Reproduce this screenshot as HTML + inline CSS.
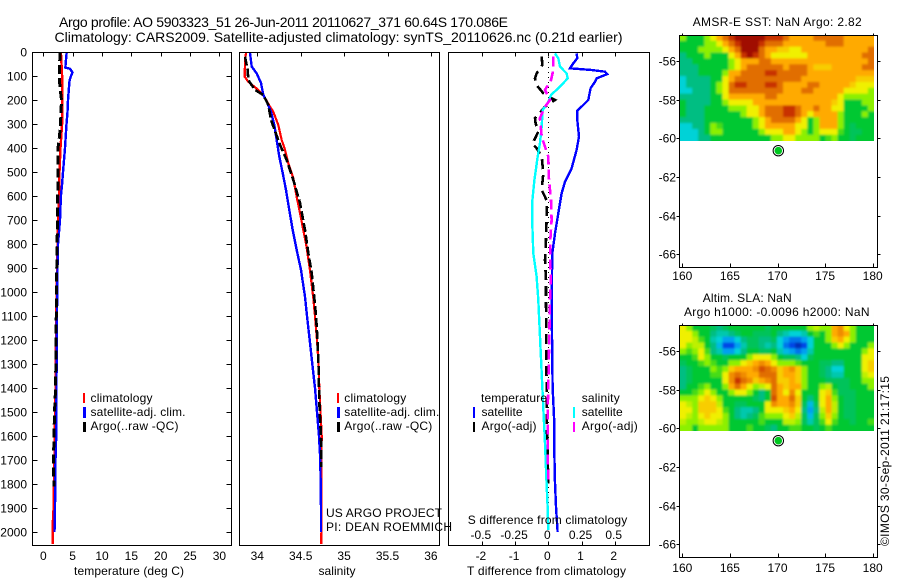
<!DOCTYPE html>
<html lang="en">
<head>
<meta charset="utf-8">
<title>Argo profile chart</title>
<style>
html,body{margin:0;padding:0;background:#fff;}
svg{display:block;}
text{font-family:"Liberation Sans",sans-serif;font-size:12px;fill:#000;}
.t14{font-size:14px;}
</style>
</head>
<body>
<svg id="chart" xmlns="http://www.w3.org/2000/svg" width="900" height="580" viewBox="0 0 900 580">
<defs>
<filter id="smooth" filterUnits="userSpaceOnUse" x="640" y="0" width="260" height="580"><feGaussianBlur stdDeviation="1.1"/></filter>
<clipPath id="clip-sst"><rect x="680" y="36" width="194" height="105"/></clipPath>
<clipPath id="clip-sla"><rect x="680" y="326" width="194" height="105"/></clipPath>
</defs>
<rect width="900" height="580" fill="#fff"/>
<text class="t14" x="59" y="27" textLength="449" lengthAdjust="spacing">Argo profile: AO 5903323_51 26-Jun-2011 20110627_371 60.64S 170.086E</text>
<text class="t14" x="54.5" y="42" textLength="568" lengthAdjust="spacing">Climatology: CARS2009. Satellite-adjusted climatology: synTS_20110626.nc (0.21d earlier)</text>
<g id="layer-heat"></g>
<g id="layer-lines"></g>
<g id="layer-axes"></g>

<g>
<rect x="83" y="393" width="2" height="10" fill="#f00"/>
<rect x="83" y="407" width="3" height="11" fill="#00f"/>
<rect x="83" y="422" width="3" height="10" fill="#000"/>
<text x="90.5" y="402" textLength="62" lengthAdjust="spacing">climatology</text>
<text x="90.5" y="416" textLength="95" lengthAdjust="spacing">satellite-adj. clim.</text>
<text x="90.5" y="430" textLength="88" lengthAdjust="spacing">Argo(..raw -QC)</text>
</g>
<g>
<rect x="337" y="393" width="2" height="10" fill="#f00"/>
<rect x="337" y="407" width="3" height="11" fill="#00f"/>
<rect x="337" y="422" width="3" height="10" fill="#000"/>
<text x="344.3" y="402" textLength="62" lengthAdjust="spacing">climatology</text>
<text x="344.3" y="416" textLength="95" lengthAdjust="spacing">satellite-adj. clim.</text>
<text x="344.3" y="430" textLength="88" lengthAdjust="spacing">Argo(..raw -QC)</text>
</g>
<g>
<text x="481" y="402" textLength="66" lengthAdjust="spacing">temperature</text>
<text x="581.7" y="402" textLength="38" lengthAdjust="spacing">salinity</text>
<rect x="473" y="407" width="2" height="11" fill="#00f"/>
<rect x="473" y="422" width="2" height="10" fill="#000"/>
<rect x="573" y="407" width="2" height="11" fill="#0ff"/>
<rect x="573" y="422" width="2" height="10" fill="#f0f"/>
<text x="481.5" y="416" textLength="41" lengthAdjust="spacing">satellite</text>
<text x="481.5" y="430" textLength="55" lengthAdjust="spacing">Argo(-adj)</text>
<text x="581.7" y="416" textLength="41" lengthAdjust="spacing">satellite</text>
<text x="581.7" y="430" textLength="56" lengthAdjust="spacing">Argo(-adj)</text>
</g>

<text x="74" y="575" textLength="110" lengthAdjust="spacing">temperature (deg C)</text>
<text x="318.5" y="575" textLength="37" lengthAdjust="spacing">salinity</text>
<text x="467" y="575" textLength="159" lengthAdjust="spacing">T difference from climatology</text>
<text x="467.7" y="524" textLength="159.5" lengthAdjust="spacing">S difference from climatology</text>
<text x="326" y="517" textLength="116" lengthAdjust="spacing">US ARGO PROJECT</text>
<text x="326" y="531" textLength="126" lengthAdjust="spacing">PI: DEAN ROEMMICH</text>
<text x="692.7" y="26" textLength="169" lengthAdjust="spacing">AMSR-E SST: NaN Argo: 2.82</text>
<text x="702.7" y="302" textLength="89" lengthAdjust="spacing">Altim. SLA: NaN</text>
<text x="684" y="316" textLength="185.5" lengthAdjust="spacing">Argo h1000: -0.0096 h2000: NaN</text>
<text transform="translate(889,546) rotate(-90)" textLength="170" lengthAdjust="spacing">©IMOS 30-Sep-2011 21:17:15</text>
<g stroke="#000" stroke-width="1" shape-rendering="crispEdges">
<line x1="445" y1="526.5" x2="450" y2="526.5"/>
<line x1="450.5" y1="522" x2="450.5" y2="530"/>
</g>
</svg>
<script>
// ---- tick labels ----
const depthTicks = [0,100,200,300,400,500,600,700,800,900,1000,1100,1200,1300,1400,1500,1600,1700,1800,1900,2000];
const tempTicks = [0,5,10,15,20,25,30];
const salTicks = [34,34.5,35,35.5,36];
const salTickLabels = ['34','34.5','35','35.5','36'];
const tDiffTicks = [-2,-1,0,1,2];
const sDiffTicks = [-0.5,-0.25,0,0.25,0.5];
const sDiffLabels = ['-0.5','-0.25','0','0.25','0.5'];
const lonTicks = [160,165,170,175,180];
const latTicks = [-56,-58,-60,-62,-64,-66];

// ---- temperature panel ----
const tempClimDepth = [0,50,100,200,300,400,500,600,700,800,900,1000,1100,1200,1300,1400,1500,1600,1700,1800,1900,1950,1955,2050];
const tempClimValue = [3.0,3.1,3.2,3.2,3.2,2.93,2.76,2.67,2.55,2.42,2.33,2.3,2.2,2.17,2.1,2.08,2.0,1.95,1.9,1.83,1.74,1.7,1.57,1.6];
const tempSatDepth = [0,50,65,70,85,100,120,200,250,300,400,450,500,550,600,700,800,900,1000,1200,1400,1600,1700,1900,2000];
const tempSatValue = [3.98,3.8,3.76,4.55,4.97,4.72,4.46,4.2,4.12,3.95,3.7,3.53,3.36,3.2,3.0,2.85,2.5,2.42,2.37,2.28,2.25,2.2,2.08,2.0,1.9];
const tempArgoDepth = [0,100,150,200,300,350,400,500,600,700,800,1000,1400,1500,1700,1810];
const tempArgoValue = [2.85,2.72,2.85,3.1,2.93,2.76,2.5,2.5,2.45,2.45,2.33,2.25,2.1,1.9,1.74,1.8];

// ---- salinity panel ----
const salClimDepth = [4,33,103,124,158,179,228,249,304,367,408,463,525,604,671,742,812,908,1025,1100,1200,1300,1400,1600,1700,1900,2050];
const salClimValue = [33.87,33.858,33.855,33.896,34.012,34.069,34.146,34.184,34.242,34.281,34.319,34.357,34.415,34.454,34.492,34.53,34.568,34.606,34.645,34.665,34.688,34.705,34.714,34.742,34.74,34.74,34.737];
const salSatDepth = [4,61,89,129,179,207,249,304,367,436,504,575,658,742,825,908,1020,1100,1200,1300,1400,1500,1600,1700,1900,2000];
const salSatValue = [33.916,33.935,33.993,34.043,34.069,34.108,34.158,34.196,34.224,34.253,34.293,34.331,34.369,34.408,34.454,34.503,34.55,34.573,34.604,34.634,34.665,34.688,34.711,34.726,34.734,34.734];
const salArgoDepth = [20,75,117,158,179,220,283,387,450,533,629,742,838,921,1025,1100,1200,1300,1400,1500,1600,1730];
const salArgoValue = [33.858,33.889,33.896,33.974,34.069,34.127,34.158,34.262,34.339,34.415,34.492,34.55,34.588,34.627,34.657,34.676,34.694,34.705,34.711,34.719,34.734,34.737];

// ---- difference panel ----
const dTempSatDepth = [6,26,47,68,75,82,92,110,124,151,200,221,244,283,353,408,485,540,589,672,756,839,1033,1394,1547,1658,1783,1894,1999];
const dTempSatValue = [0.853,0.873,0.753,0.653,1.305,1.707,1.777,1.456,1.406,1.275,1.205,1.054,0.873,0.873,0.924,0.853,0.703,0.502,0.402,0.301,0.201,0.12,0.1,0.13,0.181,0.181,0.2,0.231,0.281];
const dTempArgoDepth = [19,54,89,110,138,172,186,200,228,244,276,297,332,360,383,401,436,506,575,617,700,783,867,950,1033,1394,1547,1672,1797];
const dTempArgoValue = [-0.2,-0.18,-0.351,-0.402,-0.351,-0.15,0,0.2,-0.1,-0.2,-0.402,-0.382,-0.301,-0.402,-0.482,-0.351,-0.2,-0.15,-0.2,-0.05,-0.05,-0.07,-0.1,-0.07,-0.07,-0.05,-0.05,-0.02,0];
const dSalSatDepth = [6,26,61,89,110,144,179,214,242,311,381,436,533,617,728,839,936,1033,1394,1519,1630,1769,1894,1992];
const dSalSatValue = [0.05,0.075,0.088,0.138,0.146,0.088,0.02,-0.005,-0.043,-0.05,-0.063,-0.08,-0.105,-0.12,-0.12,-0.113,-0.088,-0.075,-0.045,-0.035,-0.025,-0.015,-0.005,0];
const dSalArgoDepth = [19,75,117,158,200,228,276,353,394,436,533,617,700,783,867,950,1033,1394,1505,1630,1800];
const dSalArgoValue = [0.038,0.038,0.02,-0.025,0.013,-0.025,-0.063,-0.05,-0.025,0,0.005,0.02,0.025,0.015,0.015,0.018,0.013,0,-0.005,-0.005,0];
const zeroLineDepth = [0,2000];
const zeroLineValue = [0,0];

// ---- maps: colour-index grids, north to south, west to east ----
const sstGrid = [
[6,5,5,5,6,7,8,9,10,11,11,11,11,11,10,10,10,9,8,8,8,8,9,9,9,9,9,8,8,8,8,8],
[5,5,5,5,6,6,7,8,9,10,11,11,11,10,9,9,9,8,8,8,8,8,8,8,9,9,9,8,8,8,8,8],
[5,5,5,6,6,6,6,7,8,9,11,11,11,9,8,8,7.5,7.5,7,7,8,8,8,8,8,8,8,8,8,8,8,9],
[4,5,5,5,6,5,5,5,7,8,10,11,10,9,8,7,7,7,7,7,7,8,8,8,8,8,8,8,8,8,9,9],
[4,4,5,5,5,5,5,5,6,7,8,8,8,9,9,8,8,8,8,8,8,8,8,8,8,8,8,8,8,8,8,9],
[4,4,4,5,5,5,5,5,6,7,8,9,9,9,9,9,9,8,9,9,9,8,7.5,7.5,7.5,8,8,8,8,8,9,9],
[4,4,4,5,5,5,5,6,8,8,9,9,9,9,10,10,9,9,9,9,9,8,8,8,8,8,8,8,8,8,8,8],
[3,4,4,4,4,5,5,7,8,9,9,9,9,9,9,9,9,9,9,9,8,8,8,8,8,8,8,8,8,7.5,7.5,7.5],
[3,4,4,4,4,5,6,7,9,10,10,9,9,9,10,10,9,8,8,8,8,9,9,8,8,8,8,8,7.5,7,7,7],
[3,3,4,4,4,5,6,7,9,9,9,9,9,9,9,9,9,8,8,8,9,9,8,8,8,8,8,7,7,7,7,6],
[4,4,4,4,4,5,5,7,8,8,8,8,8,8,9,9,8,8,8,8,8,8,8,8,8,8,7,6,6,6,6,6],
[5,4,4,4,4,5,5,6,7,7,7,7,8,8,8,8,8,8,8,8,8,8,8,8,8,7.5,7,5,5,5,6,6],
[5,4,4,4,5,5,5,5,6,6,6,7,7,8,9,9,9,10,10,9,8,8,9,8,8,7,7,5,5,5,5,6],
[5,4,4,4,5,5,5,5,5,5,6,7,7,8,9,9,9,10,10,9,8,7,8,8,8,8,6,5,5,5,6,5],
[4,4,4,4,5,5,5,5,5,5,5,5,6,7,8,9,9,9,9,8,7,5,6,8,8,8,6,5,5,5,5,5],
[3,3,4,4,5,6,5.5,5,5,5,5,5,6,7,8,8,8,8,8,7,7,5,6,8,8,8,6,5,4.5,5,5,5],
[3,3,3,4,5,6,6,5,5,5,5,5,5,6,7,7,7,8,8,7,6,5,6,7,7,7,5.5,5,4.5,4.5,5,5],
[3,3,3,4,4,5,5,5,5,5,5,5,5,5,5,6,6,7,7,6,6,6,6,5,5.5,6,5,5,4.5,5,5,5]
];
const slaGrid = [
[7,6,5,5,5,4.5,4,4.5,5,5,5,5,5,5,4.5,5,5,5,5,5,5,6,6.5,6,6,8,8.5,7,6,5,5,5],
[7,7,6,5,5,4,3.5,3.5,4,4.5,5,5,4.5,4.5,4.5,5,4,3.5,3,3,3.5,5,5.5,5,6,8,8.5,8,6,5,5,5],
[7,7,6.5,5.5,5,3.5,3,2,2,3,4,4.5,4.5,4,4,4.5,3,2,1.5,1.5,2,3,5,5,6,7.5,8,7,6,5,5,5],
[7,6,6.5,6.5,5,4,2.5,1,1,2,3.5,4.5,4.5,4,3.5,4,3,1.5,1,0.5,1,3,5,5,5,6,7,6,5,5,5,6],
[6,5.5,6,7,5.5,4,3.5,2,2,3,4,5,5,4.5,4.5,5,3.5,2.5,2,1.5,2,3.5,5,5,5,5,5,5,5,5,6,7],
[5,5,5.5,7,6,5,5,4.5,5,5,5,6,7,7,7,6,5,4.5,4.5,4,3,4.5,5,5,5,5,5,5,5,5,7,7],
[4.5,5,5,5.5,6,5.5,5,5,6,6,7,7.5,8,8.5,8,7,6,6,6,5.5,5,5,5,4.5,4.5,4,4,5,5,5,7,7.5],
[4,4.5,5,5,5,6,5.5,6,7.5,8,8,8,8.5,9.5,9,8.5,7.5,8,8.5,7.5,6,5,5,4.5,4,3,3,5,5,5,7,7.5],
[4,4.5,5,5,5,5.5,5.5,7,8.5,9,8.5,8,8,9,9,9,7.5,8,8,7.5,6,5,5,4.5,4,3.5,3.5,5,5,5,6.5,7],
[4,4.5,5,5,5,5,5,7,8.5,10,9,8.5,7.5,8,8.5,9,7.5,7.5,8,7.5,6,5,5,5,4.5,4.5,4.5,4.5,5,5,6,6],
[4,5,5,5.5,6,5,5,6,8,9,8,7,6,6.5,7,9,8,7.5,8,8,6,5,5,6,6.5,5,4.5,4.5,5,5,5,6],
[5,5,5.5,6,7,6,5,5,6,7,7,6,5,4,5,9,8,7,8.5,7,5,5,5,7,7.5,5.5,4.5,4.5,4.5,5,5,5],
[6,6,6,7,7.5,7,6,5,5,5,5,5,4.5,4,5,9.5,8,8,9,7.5,5,4,5,7,8,6,5,4.5,4.5,5,5,5],
[7,6.5,6,7.5,7.5,7.5,6.5,5,5,4.5,4.5,5,5,5,7,8.5,8,8,8.5,7.5,4.5,2.5,4.5,7,8,6.5,5,4.5,4.5,5,5,5],
[7,7,6,7.5,7.5,7.5,7,5.5,5,4,3.5,3.5,4,5,7,7,7,7.5,8,7,4,2,4,6.5,8,6.5,5,4.5,4.5,5,5,5],
[7,6.5,6,7,7.5,7,7,6,5,4,3.5,4,4.5,5.5,6,6,6,7,7.5,6.5,4.5,2.5,4.5,6,7.5,6,5,4.5,4.5,5,5,5],
[6.5,6,6,6.5,7,7,6.5,6,5,5,5,5,5,5.5,5,5,5,6.5,6.5,6,4.5,3.5,4.5,5.5,7,5.5,5,5,4.5,5,5,5.5],
[6,6,5,6,6,6,6,6,5,5,5,5.5,5,5,4.5,4,5,5,5.5,5.5,5,5,4.5,5,5.5,5,5,5,5,5,5,5]
];
const argoLon = [170.086];
const argoLat = [-60.64];

const NS = 'http://www.w3.org/2000/svg';
const layerLines = document.getElementById('layer-lines');
const layerAxes = document.getElementById('layer-axes');
const layerHeat = document.getElementById('layer-heat');

// ---- axis functions ----
function yDepth(d){ return 52 + d * 0.24; }
function xTemp(v){ return 43.3 + v * 5.87; }
function xSal(v){ return 257.3 + (v - 34) * 86.8; }
function xDT(v){ return 548.3 + v * 33.2; }
function xDS(v){ return 548.3 + v * 132.8; }
function xLon(v){ return 682.3 + (v - 160) * 9.52; }
function ySst(v){ return 61 + (-56 - v) * 19.33; }
function ySla(v){ return 351 + (-56 - v) * 19.33; }

function hLine(parent, x1, y1, x2, y2, name){
  const el = document.createElementNS(NS, 'line');
  
  
  el.setAttribute('x1', x1);
  el.setAttribute('y1', y1);
  el.setAttribute('x2', x2);
  el.setAttribute('y2', y2);
  el.setAttribute('stroke', '#000');
  el.setAttribute('stroke-width', '1');
  el.setAttribute('shape-rendering', 'crispEdges');
  parent.appendChild(el);
}
function label(parent, str, x, y, anchor, name){
  const el = document.createElementNS(NS, 'text');
  
  
  el.setAttribute('x', x);
  el.setAttribute('y', y);
  el.setAttribute('text-anchor', anchor);
  el.textContent = str;
  parent.appendChild(el);
}
function box(x0, y0, x1, y1, name){
  const el = document.createElementNS(NS, 'rect');
  
  
  el.setAttribute('x', x0);
  el.setAttribute('y', y0);
  el.setAttribute('width', x1 - x0);
  el.setAttribute('height', y1 - y0);
  el.setAttribute('fill', 'none');
  el.setAttribute('stroke', '#000');
  el.setAttribute('shape-rendering', 'crispEdges');
  layerAxes.appendChild(el);
}
function series(values, depths, xFn, color, width, dash, name){
  const el = document.createElementNS(NS, 'polyline');
  
  
  el.setAttribute('points', values.map(function(v, i){ return xFn(v).toFixed(1) + ',' + yDepth(depths[i]).toFixed(1); }).join(' '));
  el.setAttribute('fill', 'none');
  el.setAttribute('stroke', color);
  el.setAttribute('stroke-width', width);
  el.setAttribute('shape-rendering', 'crispEdges');
  if (dash) el.setAttribute('stroke-dasharray', dash);
  layerLines.appendChild(el);
}

// ---- profile panels ----
series(tempClimValue, tempClimDepth, xTemp, '#f00', 2.4, null, 'temperature-climatology-line');
series(tempSatValue, tempSatDepth, xTemp, '#00f', 2.4, null, 'temperature-satellite-line');
series(tempArgoValue, tempArgoDepth, xTemp, '#000', 3, '9 4', 'temperature-argo-line');
series(salClimValue, salClimDepth, xSal, '#f00', 2.2, null, 'salinity-climatology-line');
series(salSatValue, salSatDepth, xSal, '#00f', 2.4, null, 'salinity-satellite-line');
series(salArgoValue, salArgoDepth, xSal, '#000', 2.6, '9 3', 'salinity-argo-line');
series(zeroLineValue, zeroLineDepth, xDT, '#000', 1, '1 4', 'zero-difference-line');
series(dTempSatValue, dTempSatDepth, xDT, '#00f', 2.4, null, 't-difference-satellite-line');
series(dTempArgoValue, dTempArgoDepth, xDT, '#000', 2.6, '10 6', 't-difference-argo-line');
series(dSalSatValue, dSalSatDepth, xDS, '#0ff', 2.4, null, 's-difference-satellite-line');
series(dSalArgoValue, dSalArgoDepth, xDS, '#f0f', 2.6, '10 5', 's-difference-argo-line');

// ---- profile axes ----
const panelTop = 52.5;
const panelBottom = 545.5;
box(32.5, panelTop, 231.5, panelBottom, 'temperature-panel-frame');
box(239.5, panelTop, 439.5, panelBottom, 'salinity-panel-frame');
box(448.5, panelTop, 649.5, panelBottom, 'difference-panel-frame');

depthTicks.forEach(function(d){
  const y = Math.round(yDepth(d)) + 0.5;
  hLine(layerAxes, 32.5, y, 37.5, y, 'depth-tick-left');
  hLine(layerAxes, 226.5, y, 231.5, y, 'depth-tick-right');
  label(layerAxes, String(d), 27, y + 4, 'end', 'depth-tick-label');
});
tempTicks.forEach(function(v){
  const x = Math.round(xTemp(v)) + 0.5;
  hLine(layerAxes, x, panelTop, x, panelTop + 4, 'temperature-tick');
  label(layerAxes, String(v), xTemp(v), 560, 'middle', 'temperature-tick-label');
});
salTicks.forEach(function(v, i){
  const x = Math.round(xSal(v)) + 0.5;
  hLine(layerAxes, x, panelTop, x, panelTop + 4, 'salinity-tick');
  label(layerAxes, salTickLabels[i], xSal(v), 560, 'middle', 'salinity-tick-label');
});
tDiffTicks.forEach(function(v){
  const x = Math.round(xDT(v)) + 0.5;
  hLine(layerAxes, x, panelTop, x, panelTop + 4, 't-difference-tick-top');
  hLine(layerAxes, x, panelBottom - 4, x, panelBottom, 't-difference-tick-bottom');
  label(layerAxes, String(v), xDT(v) - 1, 560, 'middle', 't-difference-tick-label');
});
sDiffTicks.forEach(function(v, i){
  label(layerAxes, sDiffLabels[i], xDS(v) - 1, 539, 'middle', 's-difference-tick-label');
});

// ---- heat maps ----
const colorStops = [
[0,0,20,140],[1,0,70,230],[2,0,160,240],[3,0,210,215],[4,0,190,130],[5,0,200,50],
[6,140,240,0],[7,240,240,0],[8,255,170,0],[9,225,110,0],[10,200,50,0],[11,160,10,0]
];
function heatColor(v){
  const lo = Math.max(0, Math.min(10, Math.floor(v)));
  const f = Math.max(0, Math.min(1, v - lo));
  const a = colorStops[lo];
  const b = colorStops[lo + 1];
  return 'rgb(' + [1,2,3].map(function(k){ return Math.round(a[k] + (b[k] - a[k]) * f); }).join(',') + ')';
}
const mapLonWest = 159.76;
const mapLonEast = 180.13;
const mapLatNorth = -54.65;
const mapLatSouth = -60.12;
function drawHeat(grid, yFn, clipId, name){
  const clip = document.createElementNS(NS, 'g');
  
  
  clip.setAttribute('clip-path', 'url(#' + clipId + ')');
  const blur = document.createElementNS(NS, 'g');
  
  
  blur.setAttribute('filter', 'url(#smooth)');
  const rows = grid.length;
  grid.forEach(function(row, r){
    const cols = row.length;
    row.forEach(function(v, c){
      let x0 = xLon(mapLonWest + (mapLonEast - mapLonWest) * c / cols);
      let x1 = xLon(mapLonWest + (mapLonEast - mapLonWest) * (c + 1) / cols);
      let y0 = yFn(mapLatNorth + (mapLatSouth - mapLatNorth) * r / rows);
      let y1 = yFn(mapLatNorth + (mapLatSouth - mapLatNorth) * (r + 1) / rows);
      if (c === 0) x0 -= 12;
      if (c === cols - 1) x1 += 12;
      if (r === 0) y0 -= 12;
      if (r === rows - 1) y1 += 12;
      const cell = document.createElementNS(NS, 'rect');
      
      
      cell.setAttribute('x', x0.toFixed(2));
      cell.setAttribute('y', y0.toFixed(2));
      cell.setAttribute('width', (x1 - x0 + 0.6).toFixed(2));
      cell.setAttribute('height', (y1 - y0 + 0.6).toFixed(2));
      cell.setAttribute('fill', heatColor(v));
      blur.appendChild(cell);
    });
  });
  clip.appendChild(blur);
  layerHeat.appendChild(clip);
}
drawHeat(sstGrid, ySst, 'clip-sst', 'sst-map');
drawHeat(slaGrid, ySla, 'clip-sla', 'sla-map');

function mapAxes(yFn, top, bottom, labelY, name){
  box(679.5, top, 877.5, bottom, name + '-frame');
  lonTicks.forEach(function(v){
    const x = Math.round(xLon(v)) + 0.5;
    hLine(layerAxes, x, top - 2, x, top, name + '-lon-tick-top');
    hLine(layerAxes, x, bottom - 4, x, bottom, name + '-lon-tick-bottom');
    label(layerAxes, String(v), xLon(v), labelY, 'middle', name + '-lon-label');
  });
  latTicks.forEach(function(v){
    const y = Math.round(yFn(v)) + 0.5;
    hLine(layerAxes, 676.5, y, 679.5, y, name + '-lat-tick-left');
    hLine(layerAxes, 877.5, y, 880.5, y, name + '-lat-tick-right');
    label(layerAxes, String(v), 676, y + 4, 'end', name + '-lat-label');
  });
  argoLon.forEach(function(lon, i){
    const ring = document.createElementNS(NS, 'circle');
    
    
    ring.setAttribute('cx', xLon(lon));
    ring.setAttribute('cy', yFn(argoLat[i]));
    ring.setAttribute('r', 5.2);
    ring.setAttribute('fill', '#fff');
    ring.setAttribute('stroke', '#000');
    ring.setAttribute('stroke-width', 1);
    layerAxes.appendChild(ring);
    const dot = document.createElementNS(NS, 'circle');
    
    
    dot.setAttribute('cx', xLon(lon));
    dot.setAttribute('cy', yFn(argoLat[i]));
    dot.setAttribute('r', 3.8);
    dot.setAttribute('fill', '#00c820');
    layerAxes.appendChild(dot);
  });
}
mapAxes(ySst, 35.5, 267.5, 280, 'sst-map');
mapAxes(ySla, 325.5, 557.5, 572, 'sla-map');
</script>
</body>
</html>
